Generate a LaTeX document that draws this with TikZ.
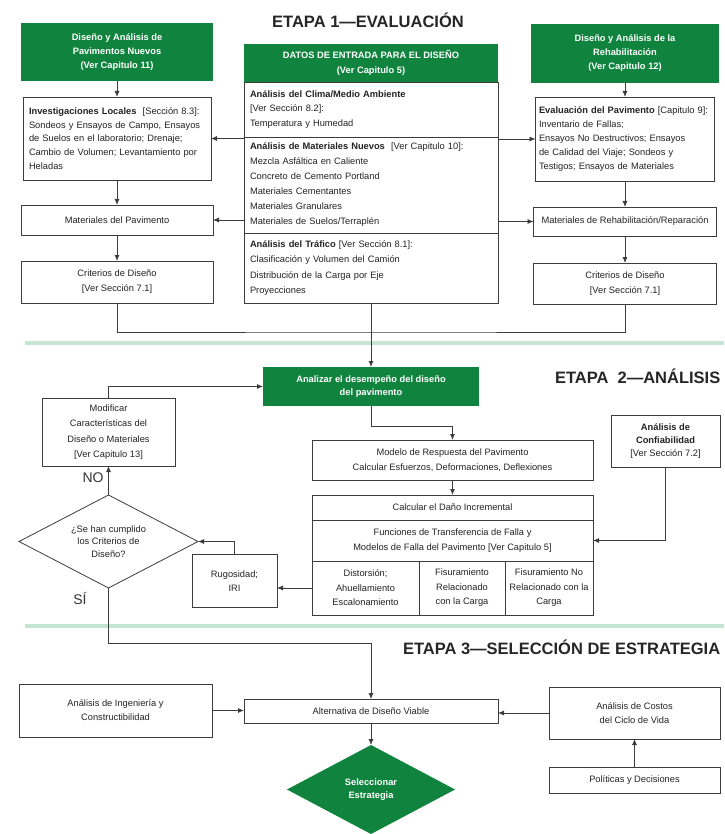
\documentclass[tikz,border=0pt]{standalone}
\usepackage{fontspec}
\setmainfont{Liberation Sans}
\usetikzlibrary{shapes.geometric, arrows.meta}

\definecolor{dgreen}{RGB}{16,132,62}
\definecolor{sepgreen}{RGB}{196,228,212}
\definecolor{linegray}{RGB}{60,60,60}
\definecolor{txtgray}{RGB}{35,35,35}

\tikzset{
  lh/.style={font=\fontsize{9.3}{#1}\selectfont},
  sz/.style 2 args={minimum width=#1pt, minimum height=#2pt},
  leftbox/.style={box, align=left, text width=#1pt}
}

\begin{document}
\begin{tikzpicture}[x=1pt, y=-1pt, >={Latex[length=6pt,width=5pt]}, line width=0.8pt, color=linegray,
  every node/.style={inner sep=0pt, outer sep=0pt, text=txtgray,
    font=\fontsize{9.3}{14}\selectfont},
  box/.style={draw=linegray, fill=white, align=center},
  greenbox/.style={fill=dgreen, text=white, align=center,
    execute at begin node=\bfseries},
  title/.style={font=\fontsize{16.5}{18}\selectfont\bfseries, text=black!85},
  yesno/.style={font=\fontsize{14}{16}\selectfont, text=black!80},
  sep/.style={draw=sepgreen, line width=4pt}
]
  \fill[white] (0,0) rectangle (724,834);
  \useasboundingbox (0,0) rectangle (724,834);

  % Stage separators and titles
  \draw[sep] (25,343) -- (724,343);
  \draw[sep] (25,626) -- (724,626);
  \node[title] (t1) at (368,20) {ETAPA 1—EVALUACIÓN};
  \node[title, anchor=west] (t2) at (555,376) {ETAPA\ \ 2—ANÁLISIS};
  \node[title, anchor=west] (t3) at (403,647) {ETAPA 3—SELECCIÓN DE ESTRATEGIA};

  % Stage 1: new pavements on the left
  \node[greenbox, sz={192}{58}] (gNuevos) at (117,52)
    {Diseño y Análisis de\\Pavimentos Nuevos\\(Ver Capitulo 11)};
  \node[leftbox=176, sz={188}{83}, lh=13.8] (invest) at (117,138.5)
    {\textbf{Investigaciones Locales}\ \ [Sección 8.3]:\\Sondeos y Ensayos de Campo, Ensayos\\de Suelos en el laboratorio; Drenaje;\\Cambio de Volumen; Levantamiento por\\Heladas};
  \node[box, sz={192}{30}] (matPav) at (117,220) {Materiales del Pavimento};
  \node[box, sz={192}{42}, lh=15] (critL) at (117,282) {Criterios de Diseño\\{[Ver Sección 7.1]}};

  % Stage 1: design inputs in the middle
  \node[greenbox, sz={254}{38}, lh=15] (gDatos) at (371,63)
    {DATOS DE ENTRADA PARA EL DISEÑO\\(Ver Capitulo 5)};
  \node[leftbox=242, sz={254}{55}, lh=14.5] (clima) at (371,109.5)
    {\textbf{Análisis del Clima/Medio Ambiente}\\{[Ver Sección 8.2]:}\\Temperatura y Humedad};
  \node[leftbox=242, sz={254}{96}, lh=15] (mater) at (371,185)
    {\textbf{Análisis de Materiales Nuevos}\ \ [Ver Capitulo 10]:\\Mezcla Asfáltica en Caliente\\Concreto de Cemento Portland\\Materiales Cementantes\\Materiales Granulares\\Materiales de Suelos/Terraplén};
  \node[leftbox=242, sz={254}{70}, lh=15.5] (trafico) at (371,268)
    {\textbf{Análisis del Tráfico} [Ver Sección 8.1]:\\Clasificación y Volumen del Camión\\Distribución de la Carga por Eje\\Proyecciones};

  % Stage 1: rehabilitation on the right
  \node[greenbox, sz={188}{59}] (gRehab) at (625,53.5)
    {Diseño y Análisis de la\\Rehabilitación\\(Ver Capitulo 12)};
  \node[leftbox=172, sz={179}{84}, lh=13.8] (evalPav) at (625,139)
    {\textbf{Evaluación del Pavimento} [Capitulo 9]:\\Inventario de Fallas;\\Ensayos No Destructivos; Ensayos\\de Calidad del Viaje; Sondeos y\\Testigos; Ensayos de Materiales};
  \node[box, sz={183}{29}] (matRehab) at (625,221.5) {Materiales de Rehabilitación/Reparación};
  \node[box, sz={183}{41}, lh=15] (critR) at (625,283.5) {Criterios de Diseño\\{[Ver Sección 7.1]}};

  % Stage 1 connectors
  \draw[->] (gNuevos) -- (invest);
  \draw[->] (invest) -- (matPav);
  \draw[->] (matPav) -- (critL);
  \draw[->] (invest.east -| clima.west) -- (invest.east);
  \draw[->] (matPav.east -| mater.west) -- (matPav.east);
  \draw[->] (evalPav.west -| clima.east) -- (evalPav.west);
  \draw[->] (matRehab.west -| mater.east) -- (matRehab.west);
  \draw[->] (gRehab) -- (evalPav);
  \draw[->] (evalPav) -- (matRehab);
  \draw[->] (matRehab) -- (critR);
  \coordinate (join) at (371,332);
  \draw (critL.south) |- (join) -| (critR.south);

  % Stage 2: analysis loop
  \node[greenbox, sz={216}{39}, lh=13.5] (gAnalizar) at (371,386.5)
    {Analizar el desempeño del diseño\\del pavimento};
  \node[box, sz={133}{68}, lh=15.5] (modif) at (108.5,432)
    {Modificar\\Características del\\Diseño o Materiales\\{[Ver Capitulo 13]}};
  \node[box, diamond, shape aspect=1.9, sz={179}{93}, lh=12.5] (decide) at (108.5,541.5)
    {¿Se han cumplido\\los Criterios de\\Diseño?};
  \node[yesno] (noLbl) at (93,478) {NO};
  \node[yesno] (siLbl) at (80,598) {SÍ};
  \node[box, sz={85}{53}, lh=14] (rugos) at (234.5,581) {Rugosidad;\\IRI};
  \node[box, sz={281}{40}, lh=14.5] (modelo) at (452.5,460)
    {Modelo de Respuesta del Pavimento\\Calcular Esfuerzos, Deformaciones, Deflexiones};
  \node[box, sz={281}{25}] (danio) at (452.5,507.5) {Calcular el Daño Incremental};
  \node[box, sz={281}{41}, lh=14.5] (funciones) at (452.5,540.5)
    {Funciones de Transferencia de Falla y\\Modelos de Falla del Pavimento [Ver Capitulo 5]};
  \node[box, sz={107}{54}, lh=14.5] (distorsion) at (365.5,588) {Distorsión;\\Ahuellamiento\\Escalonamiento};
  \node[box, sz={86}{54}, lh=14.5] (fisCarga) at (462,588) {Fisuramiento\\Relacionado\\con la Carga};
  \node[box, sz={88}{54}, lh=14.5] (fisNoCarga) at (549,588) {Fisuramiento No\\Relacionado con la\\Carga};
  \node[box, sz={109}{52}, lh=13] (confiab) at (665.5,441)
    {\textbf{Análisis de}\\\textbf{Confiabilidad}\\{[Ver Sección 7.2]}};

  % Stage 2 connectors
  \draw[->] (trafico) -- (gAnalizar);
  \draw[->] (modif.north) |- (gAnalizar.west);
  \draw[->] (decide) -- (modif);
  \draw[->] (rugos.north) |- (decide.east);
  \draw[->] (distorsion.west) -- (distorsion.west -| rugos.east);
  \draw[->] (gAnalizar.south) -- ++(0,20) -| (modelo.north);
  \draw[->] (modelo) -- (danio);
  \draw[->] (confiab.south) |- (funciones.east);

  % Stage 3: strategy selection
  \node[box, sz={193}{53}, lh=14] (ingen) at (115.5,710.5) {Análisis de Ingeniería y\\Constructibilidad};
  \node[box, sz={254}{24}] (altern) at (371,711) {Alternativa de Diseño Viable};
  \node[box, sz={171}{52}, lh=14] (costos) at (634.5,713) {Análisis de Costos\\del Ciclo de Vida};
  \node[box, sz={171}{26}] (politicas) at (634.5,780) {Políticas y Decisiones};
  \node[greenbox, diamond, shape aspect=1.9, sz={168}{89}, lh=13] (gSelect) at (371,789.5)
    {Seleccionar\\Estrategia};

  % Stage 3 connectors
  \coordinate (siTurn) at (108.5,643);
  \draw[->] (decide.south) -- (siTurn) -| (altern.north);
  \draw[->] (ingen.east) -- (ingen.east -| altern.west);
  \draw[->] (costos.west) -- (costos.west -| altern.east);
  \draw[->] (politicas) -- (costos);
  \draw[->] (altern) -- (gSelect);
\end{tikzpicture}
\end{document}
